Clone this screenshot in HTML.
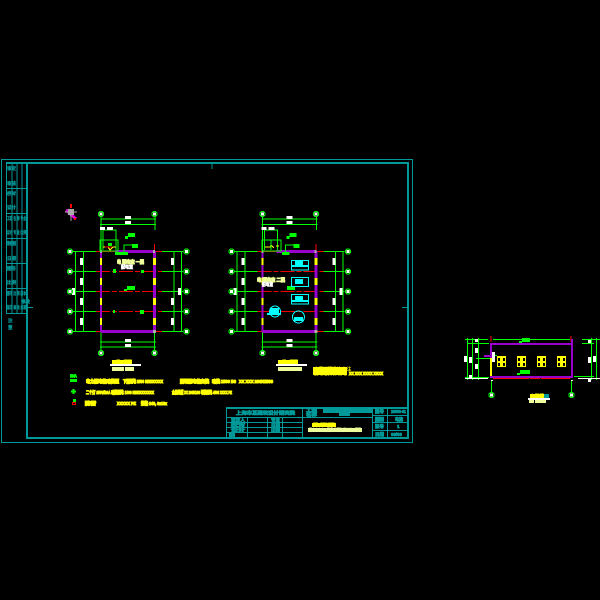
<!DOCTYPE html>
<html><head><meta charset="utf-8"><style>
html,body{margin:0;padding:0;background:#000}
svg{display:block}
text{font-family:"Liberation Sans","Noto Sans CJK SC",sans-serif;font-size:4.5px;font-weight:bold}
.y{fill:#ff0;stroke:#ff0;stroke-width:1.1}
.p{fill:#eeff99;stroke:#eeff99;stroke-width:1}
.w{fill:#fff;stroke:#fff;stroke-width:.6}
.g{fill:#0f0;stroke:#0f0;stroke-width:.7}
.t{fill:#009999;stroke:#009999;stroke-width:.7}
.s{fill:#009999;stroke:#009999;stroke-width:.3;font-size:3px}
</style></head><body>
<svg width="600" height="600" viewBox="0 0 600 600" xmlns="http://www.w3.org/2000/svg" shape-rendering="crispEdges">
<rect width="600" height="600" fill="#000"/>
<defs>
<g id="bub"><circle r="2.6" fill="#000" stroke="#0f0" stroke-width="1"/><rect x="-1.4" y="-1.4" width="3" height="3" fill="#fff"/></g>
<g id="plan">
 <g stroke="#0f0" stroke-width="1" fill="none">
  <path d="M101 219H156M100 224.500H156M101 216V250M155 216V230"/>
  <path d="M100 342H156M100 347H156M101 330V350M154.500 330V350"/>
  <path d="M75.500 251V332M83.500 251V332M174 251V332M181.500 251V332"/>
  <path d="M73 251.500H100M73 271.500H100M73 291.500H100M73 311.500H100M73 331.500H100"/>
  <path d="M162 251.500H183M162 271.500H183M162 291.500H183M162 311.500H183M162 331.500H183"/>
  <path d="M103 230H116V250M103 230V250"/>
 </g>
 <g stroke="#e00" stroke-width="1" stroke-dasharray="14 2 5 2">
  <path d="M96 271.500H162M96 291.500H162M96 311.500H162"/>
 </g>
 <path d="M96 251.500H115M156 251.500H162M96 331.500H100M156 331.500H162" stroke="#e00" stroke-width="1"/>
 <path d="M154.500 244V250" stroke="#f00" stroke-width="1"/>
 <g fill="#9900cc">
  <rect x="100" y="251" width="2" height="81"/>
  <rect x="153" y="251" width="3" height="81"/>
  <rect x="115" y="250" width="39" height="3"/>
  <rect x="101" y="330" width="54" height="3"/>
 </g>
 <g fill="#ff0">
  <rect x="100" y="258" width="2" height="7"/><rect x="100" y="278" width="2" height="7"/><rect x="100" y="298" width="2" height="7"/><rect x="100" y="318" width="2" height="7"/>
  <rect x="153" y="258" width="3" height="7"/><rect x="153" y="278" width="3" height="7"/><rect x="153" y="298" width="3" height="7"/><rect x="153" y="318" width="3" height="7"/>
 </g>
 <g fill="#aaa"><rect x="100" y="250" width="2" height="3"/><rect x="153" y="250" width="2" height="3"/><rect x="153" y="330" width="3" height="3"/></g>
 <g fill="#fff">
  <rect x="125" y="216" width="6" height="3"/><rect x="125" y="221" width="6" height="3"/>
  <rect x="125" y="339" width="6" height="3"/><rect x="125" y="344" width="6" height="3"/>
  <rect x="100" y="227" width="5" height="3"/><rect x="107" y="227" width="6" height="3"/>
  <rect x="80" y="258" width="3" height="7"/><rect x="80" y="278" width="3" height="7"/><rect x="80" y="298" width="3" height="7"/><rect x="80" y="318" width="3" height="7"/>
  <rect x="171" y="258" width="3" height="7"/><rect x="171" y="298" width="3" height="7"/><rect x="171" y="318" width="3" height="7"/>
  <rect x="178" y="288" width="3" height="7"/><rect x="72" y="288" width="3" height="7"/>
 </g>
 <g fill="#0f0">
  <rect x="128" y="233" width="7" height="4"/><rect x="125" y="236" width="3" height="3"/>
  <rect x="121" y="252" width="7" height="3"/>
  <rect x="132" y="244" width="6" height="4"/>
 </g>
 <path d="M124 252V245H138" stroke="#0f0" fill="none"/>
 <use href="#bub" x="70" y="251.500"/><use href="#bub" x="70" y="271.500"/><use href="#bub" x="70" y="291.500"/><use href="#bub" x="70" y="311.500"/><use href="#bub" x="70" y="331.500"/>
 <use href="#bub" x="186.500" y="251.500"/><use href="#bub" x="186.500" y="271.500"/><use href="#bub" x="186.500" y="291.500"/><use href="#bub" x="186.500" y="311.500"/><use href="#bub" x="186.500" y="331.500"/>
 <use href="#bub" x="101" y="214"/><use href="#bub" x="154.500" y="214"/><use href="#bub" x="101" y="353"/><use href="#bub" x="154.500" y="353"/>
</g>
</defs>

<g fill="none" stroke="#009999" stroke-width="1">
 <rect x="1.500" y="159.500" width="411" height="283"/>
 <path d="M6.500 163V313M12 163V313M17 163V313M22 163V313"/>
 <path d="M6 188.500H27M6 213.500H27M6 238.500H27M6 263.500H27M6 288.500H27M6 313.500H27"/>
 <path d="M212 163V169M27 307.500H33M402 307.500H408"/>
</g>
<rect x="6" y="162" width="403" height="2" fill="#009999"/>
<rect x="26" y="162" width="2" height="277" fill="#009999"/>
<rect x="407" y="162" width="2" height="277" fill="#009999"/>
<rect x="26" y="437" width="383" height="2" fill="#009999"/>
<g class="s">
 <text x="7" y="170">审定</text><text x="7" y="185">审核</text><text x="7" y="195">校对</text><text x="7" y="209">设计</text>
 <text x="7" y="220" textLength="19" lengthAdjust="spacingAndGlyphs">工程 名 称 专业</text>
 <text x="7" y="234" textLength="19" lengthAdjust="spacingAndGlyphs">设计 专 业 比例</text>
 <text x="7" y="245">制图</text><text x="7" y="260">日期</text><text x="7" y="270">图号</text><text x="7" y="284">比例</text>
 <text x="7" y="295" textLength="19" lengthAdjust="spacingAndGlyphs">图号 比 例 版本</text>
 <text x="21" y="303">修改</text>
 <text x="7" y="309" textLength="19" lengthAdjust="spacingAndGlyphs">版次 修 改 日期</text>
 <text x="8" y="322">注</text><text x="8" y="329">章</text>
</g>

<g>
 <path d="M66 210L76 219" stroke="#e600e6" stroke-width="3"/>
 <rect x="70" y="204" width="2" height="4" fill="#f00"/>
 <rect x="68" y="209" width="6" height="6" fill="#aaa"/>
 <path d="M71 215V221M65 212H77" stroke="#aaa"/>
 <rect x="74" y="218" width="2" height="2" fill="#f00"/>
</g>

<use href="#plan"/>
<g>
 <rect x="100" y="240" width="18" height="11" fill="none" stroke="#0f0"/>
 <path d="M103 247H108L110 250L113 247H116" stroke="#ff0" fill="none"/>
 <path d="M105 247H112" stroke="#f00"/>
 <rect x="108" y="243" width="4" height="3" fill="#0f0"/>
 <rect x="115" y="252" width="6" height="3" fill="#0f0"/>
 <rect x="113" y="269" width="3" height="4" fill="#0f0"/>
 <rect x="141" y="270" width="3" height="3" fill="#0f0"/>
 <rect x="113" y="310" width="2" height="3" fill="#0f0"/>
 <rect x="140" y="310" width="4" height="4" fill="#0f0"/>
 <rect x="127" y="286" width="8" height="4" fill="#0f0"/><rect x="124" y="289" width="3" height="2" fill="#0f0"/>
 <text class="p" x="117" y="263.500" font-size="3.500" textLength="27" lengthAdjust="spacingAndGlyphs">电 配电室 一层</text>
 <text class="w" x="121" y="268.500" font-size="3.500" textLength="12" lengthAdjust="spacingAndGlyphs">配电室</text>
</g>

<use href="#plan" x="161.500"/>
<g>
 <rect x="262" y="240" width="19" height="11" fill="none" stroke="#0f0"/>
 <path d="M265 247H270L271 245L274 248M276 246H279" stroke="#ff0" fill="none"/>
 <path d="M271 240V250" stroke="#0f0"/>
 <rect x="282" y="252" width="6" height="3" fill="#0f0"/>
 <rect x="287" y="286" width="8" height="4" fill="#0f0"/>
 <g fill="none" stroke="#0ff" stroke-width="1">
  <rect x="291.500" y="260.500" width="17" height="9.500"/>
  <rect x="291.500" y="277.500" width="17" height="9"/>
  <rect x="291.500" y="294.500" width="17" height="9.500"/>
  <circle cx="275" cy="311.500" r="5.500"/><circle cx="298.500" cy="317" r="6"/>
 </g>
 <g fill="#0ff">
  <rect x="295" y="261" width="8" height="5"/><rect x="292" y="265" width="16" height="2"/>
  <rect x="295" y="279" width="8" height="5"/>
  <rect x="295" y="296" width="8" height="5"/><rect x="292" y="300" width="16" height="2"/>
  <rect x="270" y="308" width="9" height="6"/><rect x="267" y="313" width="14" height="2"/>
  <rect x="294" y="317" width="9" height="4"/>
 </g>
 <text class="p" x="257" y="281.500" font-size="3.500" textLength="28" lengthAdjust="spacingAndGlyphs">电 配电室 二层</text>
 <text class="w" x="262" y="286" font-size="3.500" textLength="11" lengthAdjust="spacingAndGlyphs">配电室</text>
</g>

<g>
 <rect x="112" y="360" width="20" height="4" fill="#ff0"/><rect x="110" y="364" width="31" height="2" fill="#fff"/>
 <rect x="112" y="367" width="12" height="4" fill="#eeff99"/><rect x="125" y="367" width="9" height="4" fill="#eeff99"/>
 <rect x="278" y="360" width="20" height="4" fill="#ff0"/><rect x="276" y="364" width="31" height="2" fill="#fff"/>
 <rect x="278" y="367" width="14" height="4" fill="#eeff99"/><rect x="292" y="367" width="10" height="4" fill="#eeff99"/>
 <text x="112" y="363.500" font-size="3.500" fill="#ff0" textLength="20">一层平面图</text>
 <text x="278" y="363.500" font-size="3.500" fill="#ff0" textLength="20">二层平面图</text>
</g>

<g>
 <text class="g" x="70" y="377.500" font-size="4.500" textLength="7">PXA</text>
 <rect x="70" y="379" width="7" height="3" fill="#0f0"/>
 <path d="M73.500 389V394M71 391.500H76" stroke="#0f0" stroke-width="2"/>
 <rect x="73" y="399" width="3" height="3" fill="#0f0"/>
 <rect x="72.500" y="402.500" width="3" height="2" fill="none" stroke="#f00"/>
 <g class="y">
 <text x="86" y="383" textLength="33" lengthAdjust="spacingAndGlyphs">电力配电箱暗装距</text>
 <text x="123" y="383" textLength="40" lengthAdjust="spacingAndGlyphs">下沿距地 1500 NBDXXXXX</text>
 <text x="180" y="383" textLength="29" lengthAdjust="spacingAndGlyphs">照明配电箱安装</text>
 <text x="212" y="383" textLength="24" lengthAdjust="spacingAndGlyphs">暗装 1500 B6</text>
 <text x="239" y="383" textLength="34" lengthAdjust="spacingAndGlyphs">XX XXX 200X1500</text>
 <text x="86" y="394" textLength="68" lengthAdjust="spacingAndGlyphs">二个灯 250V/10A 暗装距地 1300 NBDXXXXXXX</text>
 <text x="172" y="394" textLength="60" lengthAdjust="spacingAndGlyphs">金属线槽 XX 200X100 明装距地 4500 XXXX PZ</text>
 <text x="85" y="405" textLength="11" lengthAdjust="spacingAndGlyphs">防雷</text>
 <text x="117" y="405" textLength="19" lengthAdjust="spacingAndGlyphs">XXXXX PZ</text>
 <text x="141" y="405" textLength="26" lengthAdjust="spacingAndGlyphs">规格 240, 6x10x</text>
 </g>
 <rect x="313" y="367" width="34" height="8" fill="#ff0"/>
 <text x="314" y="370.500" font-size="4" fill="#ff0">电气说明设计 备注</text>
 <text x="314" y="374.800" font-size="4" fill="#ff0">配电箱安装 接地</text>
 <text class="y" x="349" y="375" textLength="34" lengthAdjust="spacingAndGlyphs">XX XXX XXXX XXXX</text>
</g>

<g fill="none" stroke="#009999" stroke-width="1">
 <rect x="226.500" y="407.500" width="181" height="30.500"/>
 <path d="M302.500 407V438M372.500 407V438M387.500 407V438"/>
 <path d="M247.500 417V438M267.500 417V438M282.500 417V438"/>
 <path d="M226 417.500H372M226 422.500H302M226 427.500H302M226 432.500H302"/>
 <path d="M372 415.500H408M372 422.500H408M372 430.500H408"/>
</g>
<rect x="226" y="407" width="182" height="2" fill="#009999"/>
<rect x="323" y="408" width="49" height="5" fill="#009999"/>
<rect x="339" y="413" width="11" height="3" fill="#009999"/>
<g class="t">
 <text x="236" y="414.500" font-size="6" textLength="59" lengthAdjust="spacingAndGlyphs">上海市某建筑设计研究院</text>
 <text x="306" y="412" textLength="11" lengthAdjust="spacingAndGlyphs">工程</text>
 <text x="306" y="416" textLength="11" lengthAdjust="spacingAndGlyphs">名称</text>
 <text x="231" y="421.500" textLength="14" lengthAdjust="spacingAndGlyphs">审定人</text>
 <text x="231" y="426.500" textLength="14" lengthAdjust="spacingAndGlyphs">校对</text>
 <text x="231" y="431.500" textLength="14" lengthAdjust="spacingAndGlyphs">设计</text>
 <text x="229" y="436.500" textLength="6" lengthAdjust="spacingAndGlyphs">制</text>
 <text x="271" y="421.500" textLength="9" lengthAdjust="spacingAndGlyphs">专业</text>
 <text x="271" y="426.500" textLength="9" lengthAdjust="spacingAndGlyphs">日期</text>
 <text x="271" y="431.500" textLength="9" lengthAdjust="spacingAndGlyphs">比例</text>
 <text x="375" y="413" textLength="9" lengthAdjust="spacingAndGlyphs">图号</text>
 <text x="375" y="421" textLength="9" lengthAdjust="spacingAndGlyphs">图别</text>
 <text x="375" y="428" textLength="9" lengthAdjust="spacingAndGlyphs">张号</text>
 <text x="375" y="436" textLength="9" lengthAdjust="spacingAndGlyphs">日期</text>
 <text x="391" y="413" textLength="15" lengthAdjust="spacingAndGlyphs">20000-01</text>
 <text x="395" y="421" textLength="8" lengthAdjust="spacingAndGlyphs">电施</text>
 <text x="397" y="428" font-size="4">1</text>
 <text x="391" y="436" textLength="11" lengthAdjust="spacingAndGlyphs">08/03</text>
</g>
<rect x="312" y="423" width="24" height="4" fill="#ff0"/>
<rect x="308" y="428" width="54" height="4" fill="#eeff99"/>
<text x="313" y="426.700" font-size="3.800" fill="#ff0" textLength="22">配电室照明平面图</text>
<text x="309" y="431.700" font-size="3.800" fill="#eeff99" textLength="52" lengthAdjust="spacingAndGlyphs">配电室电力平面图 屋顶防雷接地平面图</text>

<g>
 <g stroke="#0f0" stroke-width="1" fill="none">
  <path d="M465 339.500H488M493 339.500H570M582 339.500H600"/>
  <path d="M467.500 338V380M472.500 338V380M478.500 338V380"/>
  <path d="M467 343.500H489M465 377.500H489M476 358.500H490M489 355.500H497"/>
  <path d="M591.500 338V380M596.500 338V380M582 343.500H594M574 376.500H594"/>
  <path d="M491.500 380V392M571.500 380V392"/>
 </g>
 <path d="M465 378.500H488M578 378.500H600" stroke="#fff" stroke-width="1"/>
 <path d="M491 336V342M571 336V342" stroke="#f00"/>
 <g fill="#9900cc">
  <rect x="490" y="343" width="82" height="2"/>
  <rect x="490" y="343" width="2" height="15"/><rect x="571" y="339" width="2" height="39"/>
  <rect x="490" y="376" width="82" height="2"/><rect x="484" y="355" width="8" height="2"/>
 </g>
 <rect x="490" y="358" width="2" height="18" fill="#ff0"/>
 <path d="M493 378.500H570" stroke="#f00" stroke-width="1" stroke-dasharray="36 1 10 1"/>
 <g fill="#fff">
  <rect x="464" y="356" width="3" height="6"/><rect x="469" y="357" width="3" height="6"/><rect x="475" y="339" width="3" height="3"/>
  <rect x="475" y="348" width="3" height="5"/><rect x="475" y="364" width="3" height="5"/><rect x="492" y="352" width="3" height="10"/>
  <rect x="588" y="357" width="3" height="6"/><rect x="593" y="356" width="3" height="6"/><rect x="588" y="340" width="3" height="3"/>
  <rect x="588" y="378" width="3" height="4"/><rect x="469" y="375" width="3" height="3"/>
  <rect x="491" y="380" width="2" height="1"/><rect x="571" y="380" width="2" height="1"/>
 </g>
 <g fill="#ff0">
  <rect x="497" y="356" width="9" height="11"/><rect x="517" y="356" width="9" height="11"/>
  <rect x="537" y="356" width="9" height="11"/><rect x="557" y="356" width="9" height="11"/>
 </g>
 <g fill="#000">
  <rect x="498" y="358" width="2" height="3"/><rect x="503" y="358" width="2" height="3"/><rect x="498" y="363" width="2" height="3"/><rect x="503" y="363" width="2" height="3"/>
  <rect x="518" y="358" width="2" height="3"/><rect x="523" y="358" width="2" height="3"/><rect x="518" y="363" width="2" height="3"/><rect x="523" y="363" width="2" height="3"/>
  <rect x="538" y="358" width="2" height="3"/><rect x="543" y="358" width="2" height="3"/><rect x="538" y="363" width="2" height="3"/><rect x="543" y="363" width="2" height="3"/>
  <rect x="558" y="358" width="2" height="3"/><rect x="563" y="358" width="2" height="3"/><rect x="558" y="363" width="2" height="3"/><rect x="563" y="363" width="2" height="3"/>
 </g>
 <g fill="#0f0">
  <rect x="522" y="338" width="8" height="4"/><rect x="519" y="341" width="3" height="2"/>
  <rect x="520" y="370" width="10" height="4"/><rect x="517" y="373" width="3" height="2"/>
 </g>
 <use href="#bub" x="491.500" y="395"/><use href="#bub" x="571.500" y="395"/>
 <rect x="530" y="394" width="14" height="4" fill="#ff0"/><rect x="544" y="394" width="5" height="4" fill="#009999"/>
 <rect x="528" y="398" width="22" height="2" fill="#fff"/>
 <rect x="529" y="400" width="5" height="3" fill="#eeff99"/><rect x="535" y="400" width="11" height="3" fill="#eeff99"/>
 <text x="530" y="397.500" font-size="3.500" fill="#ff0" textLength="14">立面图</text>
</g>
</svg>
</body></html>
